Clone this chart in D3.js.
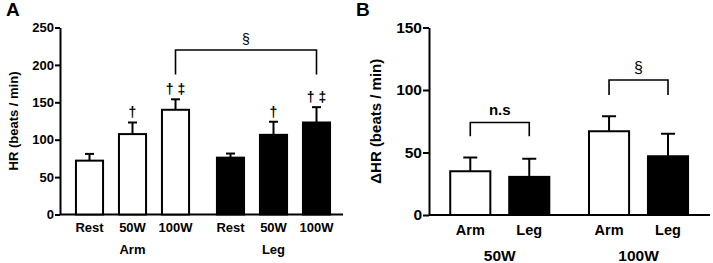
<!DOCTYPE html>
<html lang="en">
<head>
<meta charset="UTF-8">
<title>HR arm vs leg</title>
<script src="https://d3js.org/d3.v7.min.js"></script>
<style>
  body { margin: 0; background: #fff; }
  svg { display: block; font-family: "Liberation Sans", Arial, Helvetica, sans-serif; font-weight: bold; }
  .axis path, .axis line { stroke: #000; stroke-width: 2px; }
  .axis text { fill: #000; }
</style>
</head>
<body>
<div id="chart"></div>
<script>
// panel A data
const groupsA = ["Arm", "Leg"];
const condsA = ["Rest", "50W", "100W"];
const meanArmA = [72, 107.5, 140];
const errArmA = [9, 15.5, 14];
const meanLegA = [76, 106.5, 123];
const errLegA = [5.5, 17.5, 20.5];
const marksA = ["", "†", "† ‡"];
const ticksA = [0, 50, 100, 150, 200, 250];

// panel B data
const groupsB = ["50W", "100W"];
const condsB = ["Arm", "Leg"];
const meanB50 = [35, 30.5];
const errB50 = [11, 14.5];
const meanB100 = [67, 47];
const errB100 = [12, 18];
const ticksB = [0, 50, 100, 150];

const svg = d3.select("#chart").append("svg")
  .attr("width", 713)
  .attr("height", 263);

// helper: draw bars + upward error bars
function drawBars(g, rows, x0, x1, y, capW) {
  const bar = g.append("g").selectAll("g")
    .data(rows)
    .join("g");

  bar.append("rect")
    .attr("x", d => x0(d.group) + x1(d.cond))
    .attr("width", x1.bandwidth())
    .attr("y", d => y(d.mean))
    .attr("height", d => y(0) - y(d.mean))
    .attr("fill", d => d.fill)
    .attr("stroke", "#000")
    .attr("stroke-width", 2);

  bar.append("line")
    .attr("x1", d => x0(d.group) + x1(d.cond) + x1.bandwidth() / 2)
    .attr("x2", d => x0(d.group) + x1(d.cond) + x1.bandwidth() / 2)
    .attr("y1", d => y(d.mean))
    .attr("y2", d => y(d.mean + d.err))
    .attr("stroke", "#000")
    .attr("stroke-width", 2);

  bar.append("line")
    .attr("x1", d => x0(d.group) + x1(d.cond) + x1.bandwidth() / 2 - capW / 2)
    .attr("x2", d => x0(d.group) + x1(d.cond) + x1.bandwidth() / 2 + capW / 2)
    .attr("y1", d => y(d.mean + d.err))
    .attr("y2", d => y(d.mean + d.err))
    .attr("stroke", "#000")
    .attr("stroke-width", 2);
}

function bracket(g, xa, xb, yTop, yBot) {
  g.append("path")
    .attr("d", `M${xa},${yBot}V${yTop}H${xb}V${yBot}`)
    .attr("fill", "none")
    .attr("stroke", "#000")
    .attr("stroke-width", 1.6);
}

// ---------- panel A ----------
const gA = svg.append("g");
const yA = d3.scaleLinear().domain([0, 250]).range([214.5, 27.5]);
const x0A = d3.scaleBand().domain(groupsA).range([68, 338]).paddingInner(0.085);
const x1A = d3.scaleBand().domain(condsA).range([0, x0A.bandwidth()])
  .paddingInner(0.37).paddingOuter(0.185);
const axA = 60;

gA.append("g").attr("class", "axis")
  .attr("transform", `translate(${axA},0)`)
  .call(d3.axisLeft(yA).tickValues(ticksA).tickSize(5).tickSizeOuter(0).tickPadding(1))
  .call(g => g.selectAll("text").style("font-size", "13px"));
gA.append("line").attr("x1", axA).attr("x2", 343).attr("y1", yA(0)).attr("y2", yA(0))
  .attr("stroke", "#000").attr("stroke-width", 2);

const rowsA = [];
groupsA.forEach((grp, gi) => {
  const means = gi === 0 ? meanArmA : meanLegA;
  const errs = gi === 0 ? errArmA : errLegA;
  condsA.forEach((c, i) => rowsA.push({
    group: grp, cond: c, mean: means[i], err: errs[i],
    fill: gi === 0 ? "#fff" : "#000", mark: marksA[i]
  }));
});
drawBars(gA, rowsA, x0A, x1A, yA, 9);

const cxA = d => x0A(d.group) + x1A(d.cond) + x1A.bandwidth() / 2;

// significance marks
gA.append("g").selectAll("text")
  .data(rowsA.filter(d => d.mark))
  .join("text")
  .attr("x", cxA)
  .attr("y", d => yA(d.mean + d.err) - 5)
  .attr("text-anchor", "middle")
  .style("font-size", "14px")
  .text(d => d.mark);

// category labels
gA.append("g").selectAll("text")
  .data(rowsA)
  .join("text")
  .attr("x", cxA)
  .attr("y", 232)
  .attr("text-anchor", "middle")
  .style("font-size", "13px")
  .text(d => d.cond);

gA.append("g").selectAll("text")
  .data(groupsA)
  .join("text")
  .attr("x", d => x0A(d) + x0A.bandwidth() / 2)
  .attr("y", 253.5)
  .attr("text-anchor", "middle")
  .style("font-size", "13px")
  .text(d => d);

// bracket between arm 100W and leg 100W
const bA1 = x0A("Arm") + x1A("100W") + x1A.bandwidth() / 2;
const bA2 = x0A("Leg") + x1A("100W") + x1A.bandwidth() / 2;
bracket(gA, bA1, bA2, yA(220), yA(187));
gA.append("text").attr("x", (bA1 + bA2) / 2).attr("y", 44)
  .attr("text-anchor", "middle").style("font-size", "14px").style("font-weight", "normal").text("§");

gA.append("text").attr("transform", `translate(18,${(yA(0) + yA(250)) / 2}) rotate(-90)`)
  .attr("text-anchor", "middle").style("font-size", "13px").text("HR (beats / min)");

gA.append("text").attr("x", 6).attr("y", 16).style("font-size", "19px").text("A");

// ---------- panel B ----------
const gB = svg.append("g");
const yB = d3.scaleLinear().domain([0, 150]).range([215, 27.5]);
const x0B = d3.scaleBand().domain(groupsB).range([440.8, 697.5]).paddingInner(0.15);
const x1B = d3.scaleBand().domain(condsB).range([0, x0B.bandwidth()])
  .paddingInner(0.32).paddingOuter(0.16);
const axB = 429;

gB.append("g").attr("class", "axis")
  .attr("transform", `translate(${axB},0)`)
  .call(d3.axisLeft(yB).tickValues(ticksB).tickSize(6).tickSizeOuter(0).tickPadding(1))
  .call(g => g.selectAll("text").style("font-size", "15.5px"));
gB.append("line").attr("x1", axB).attr("x2", 710).attr("y1", yB(0)).attr("y2", yB(0))
  .attr("stroke", "#000").attr("stroke-width", 2);

const rowsB = [];
groupsB.forEach((grp, gi) => {
  const means = gi === 0 ? meanB50 : meanB100;
  const errs = gi === 0 ? errB50 : errB100;
  condsB.forEach((c, i) => rowsB.push({
    group: grp, cond: c, mean: means[i], err: errs[i],
    fill: i === 0 ? "#fff" : "#000"
  }));
});
drawBars(gB, rowsB, x0B, x1B, yB, 14);

const cxB = d => x0B(d.group) + x1B(d.cond) + x1B.bandwidth() / 2;

gB.append("g").selectAll("text")
  .data(rowsB)
  .join("text")
  .attr("x", cxB)
  .attr("y", 235)
  .attr("text-anchor", "middle")
  .style("font-size", "14.5px")
  .text(d => d.cond);

gB.append("g").selectAll("text")
  .data(groupsB)
  .join("text")
  .attr("x", d => x0B(d) + x0B.bandwidth() / 2)
  .attr("y", 260.5)
  .attr("text-anchor", "middle")
  .style("font-size", "15.5px")
  .text(d => d);

// brackets
const ns1 = x0B("50W") + x1B("Arm") + x1B.bandwidth() / 2;
const ns2 = x0B("50W") + x1B("Leg") + x1B.bandwidth() / 2;
bracket(gB, ns1, ns2, yB(74), yB(63));
gB.append("text").attr("x", (ns1 + ns2) / 2).attr("y", 115)
  .attr("text-anchor", "middle").style("font-size", "15px").text("n.s");

const s1 = x0B("100W") + x1B("Arm") + x1B.bandwidth() / 2;
const s2 = x0B("100W") + x1B("Leg") + x1B.bandwidth() / 2;
bracket(gB, s1, s2, yB(108), yB(96));
gB.append("text").attr("x", (s1 + s2) / 2).attr("y", 73)
  .attr("text-anchor", "middle").style("font-size", "16px").style("font-weight", "normal").text("§");

gB.append("text").attr("transform", `translate(381,${(yB(0) + yB(150)) / 2}) rotate(-90)`)
  .attr("text-anchor", "middle").style("font-size", "15px").text("ΔHR (beats / min)");

gB.append("text").attr("x", 356).attr("y", 16).style("font-size", "19px").text("B");
</script>
</body>
</html>
